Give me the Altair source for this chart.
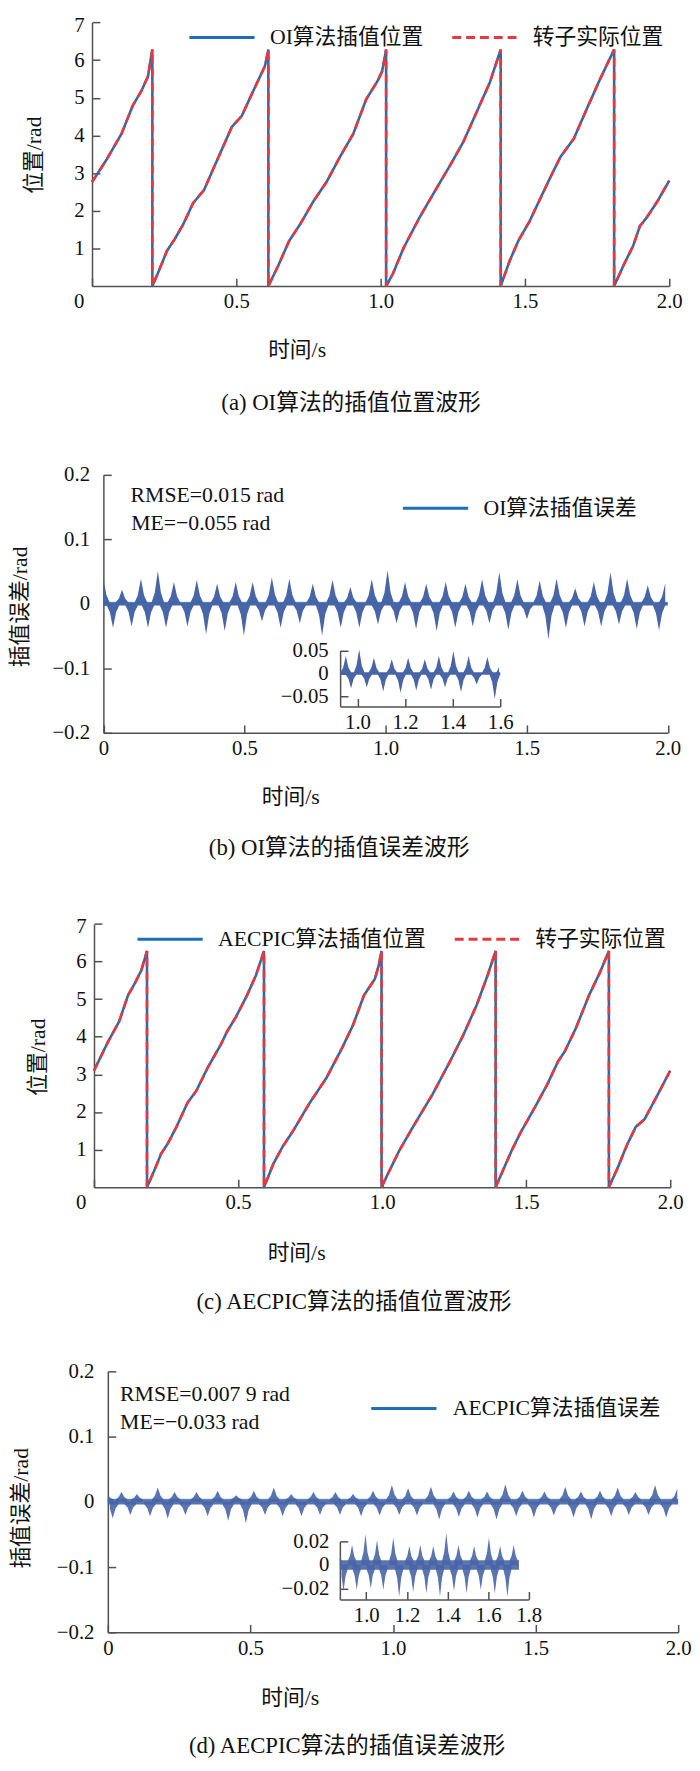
import altair as alt
import pandas as pd

FONT = "Liberation Serif, Noto Sans CJK SC"
INK = "#111111"
AXIS_COLOR = "#505050"
BLUE = "#1f6fb4"
RED = "#e8383e"
ERR_FILL = "#4865a7"

W, H = 692, 1763

# ---------------- data ----------------
# (a) OI: interpolated / actual rotor position (rad) vs time (s)
a_time = [0.0, 0.049, 0.102, 0.141, 0.171, 0.194, 0.209,
          0.209, 0.232, 0.260, 0.286, 0.316, 0.350, 0.388, 0.431, 0.484, 0.519, 0.561, 0.599, 0.611,
          0.611, 0.645, 0.683, 0.721, 0.767, 0.813, 0.859, 0.905, 0.950, 0.989, 1.005, 1.019,
          1.019, 1.042, 1.080, 1.134, 1.187, 1.241, 1.286, 1.332, 1.378, 1.416,
          1.416, 1.447, 1.477, 1.516, 1.554, 1.592, 1.623, 1.669, 1.714, 1.760, 1.809,
          1.809, 1.844, 1.875, 1.898, 1.921, 1.959, 2.0]
a_pos = [2.76, 3.34, 4.04, 4.79, 5.18, 5.57, 6.28,
         0.0, 0.41, 0.94, 1.24, 1.64, 2.20, 2.55, 3.30, 4.22, 4.52, 5.22, 5.84, 6.28,
         0.0, 0.54, 1.20, 1.64, 2.25, 2.77, 3.43, 4.04, 4.96, 5.44, 5.70, 6.28,
         0.0, 0.32, 1.02, 1.81, 2.51, 3.21, 3.82, 4.61, 5.40, 6.28,
         0.0, 0.67, 1.20, 1.72, 2.34, 2.95, 3.43, 3.91, 4.70, 5.49, 6.28,
         0.0, 0.59, 1.07, 1.59, 1.81, 2.25, 2.80]

# (c) AECPIC: interpolated / actual rotor position (rad) vs time (s)
c_time = [0.0, 0.049, 0.087, 0.118, 0.141, 0.164, 0.184,
          0.184, 0.210, 0.233, 0.256, 0.286, 0.325, 0.355, 0.394, 0.440, 0.462, 0.493, 0.531, 0.562, 0.590,
          0.590, 0.623, 0.654, 0.692, 0.746, 0.807, 0.861, 0.899, 0.937, 0.975, 0.988, 0.998,
          0.998, 1.021, 1.060, 1.113, 1.175, 1.236, 1.282, 1.328, 1.366, 1.394,
          1.394, 1.420, 1.450, 1.481, 1.527, 1.573, 1.611, 1.634, 1.672, 1.718, 1.756, 1.787,
          1.787, 1.819, 1.849, 1.880, 1.911, 1.957, 2.0]
c_pos = [3.10, 3.87, 4.40, 5.10, 5.41, 5.76, 6.28,
         0.0, 0.46, 0.89, 1.16, 1.60, 2.25, 2.56, 3.17, 3.79, 4.14, 4.53, 5.10, 5.63, 6.28,
         0.0, 0.63, 1.07, 1.51, 2.21, 2.91, 3.70, 4.31, 5.10, 5.54, 5.89, 6.28,
         0.0, 0.37, 0.98, 1.68, 2.47, 3.35, 4.05, 4.84, 5.63, 6.28,
         0.0, 0.46, 0.98, 1.46, 2.08, 2.73, 3.35, 3.61, 4.22, 5.10, 5.71, 6.28,
         0.0, 0.54, 1.11, 1.60, 1.81, 2.47, 3.10]

# (b) OI interpolation error: envelope spikes (time s, value rad)
b_peak_t = [0.0, 0.066, 0.133, 0.193, 0.250, 0.331, 0.403, 0.469, 0.529, 0.597, 0.659, 0.742, 0.812,
            0.875, 0.951, 1.007, 1.069, 1.144, 1.213, 1.283, 1.342, 1.403, 1.467, 1.546, 1.606,
            1.672, 1.738, 1.797, 1.856, 1.929, 1.991]
b_peak_v = [0.039, 0.022, 0.039, 0.051, 0.034, 0.037, 0.031, 0.034, 0.034, 0.041, 0.039, 0.031, 0.037,
            0.026, 0.038, 0.052, 0.034, 0.031, 0.034, 0.031, 0.038, 0.049, 0.038, 0.036, 0.039,
            0.024, 0.034, 0.049, 0.039, 0.029, 0.032]
b_trough_t = [0.034, 0.100, 0.158, 0.222, 0.298, 0.364, 0.430, 0.498, 0.562, 0.628, 0.696, 0.775,
              0.841, 0.907, 0.973, 1.039, 1.108, 1.181, 1.247, 1.309, 1.368, 1.435, 1.501, 1.577,
              1.639, 1.705, 1.764, 1.827, 1.890, 1.969]
b_trough_v = [-0.037, -0.035, -0.037, -0.037, -0.035, -0.047, -0.042, -0.049, -0.027, -0.037, -0.030,
              -0.049, -0.037, -0.037, -0.032, -0.030, -0.039, -0.042, -0.037, -0.035, -0.030, -0.040,
              -0.024, -0.055, -0.037, -0.035, -0.035, -0.032, -0.039, -0.041]

# (d) AECPIC interpolation error: envelope spikes (time s, value rad)
d_peak_t = [0.0, 0.048, 0.102, 0.175, 0.234, 0.311, 0.385, 0.450, 0.512, 0.582, 0.643, 0.721, 0.798,
            0.860, 0.930, 0.996, 1.053, 1.133, 1.212, 1.266, 1.330, 1.394, 1.454, 1.531, 1.604,
            1.659, 1.726, 1.788, 1.850, 1.919, 1.997]
d_peak_v = [0.010, 0.015, 0.012, 0.022, 0.015, 0.015, 0.017, 0.010, 0.017, 0.022, 0.012, 0.015, 0.015,
            0.012, 0.017, 0.026, 0.021, 0.023, 0.016, 0.017, 0.016, 0.027, 0.017, 0.016, 0.023,
            0.016, 0.017, 0.022, 0.015, 0.026, 0.020]
d_trough_t = [0.017, 0.079, 0.148, 0.210, 0.272, 0.350, 0.422, 0.484, 0.551, 0.613, 0.679, 0.744,
              0.814, 0.888, 0.953, 1.022, 1.084, 1.162, 1.231, 1.296, 1.363, 1.432, 1.494, 1.564,
              1.633, 1.695, 1.765, 1.827, 1.896, 1.958]
d_trough_v = [-0.025, -0.020, -0.022, -0.026, -0.020, -0.022, -0.029, -0.033, -0.020, -0.022, -0.022,
              -0.020, -0.020, -0.022, -0.021, -0.020, -0.021, -0.027, -0.023, -0.024, -0.027, -0.022,
              -0.024, -0.021, -0.024, -0.027, -0.022, -0.020, -0.020, -0.024]

a_series = ["OI算法插值位置", "转子实际位置"]
c_series = ["AECPIC算法插值位置", "转子实际位置"]
b_series = ["OI算法插值误差"]
d_series = ["AECPIC算法插值误差"]

main_x_ticks = [0, 0.5, 1.0, 1.5, 2.0]
pos_ticks = [1, 2, 3, 4, 5, 6, 7]
err_ticks = [-0.2, -0.1, 0, 0.1, 0.2]
b_in_xticks = [1.0, 1.2, 1.4, 1.6]
b_in_yticks = [-0.05, 0, 0.05]
d_in_xticks = [1.0, 1.2, 1.4, 1.6, 1.8]
d_in_yticks = [-0.02, 0, 0.02]

captions = ["(a) OI算法的插值位置波形", "(b) OI算法的插值误差波形",
            "(c) AECPIC算法的插值位置波形", "(d) AECPIC算法的插值误差波形"]
b_notes = ["RMSE=0.015 rad", "ME=\u22120.055 rad"]
d_notes = ["RMSE=0.007 9 rad", "ME=\u22120.033 rad"]

assert len(a_time) == len(a_pos) and len(c_time) == len(c_pos)
assert len(b_peak_t) == len(b_peak_v) and len(b_trough_t) == len(b_trough_v)
assert len(d_peak_t) == len(d_peak_v) and len(d_trough_t) == len(d_trough_v)

# spike glyph profile (fraction of half-width, fraction of height): a sharp, mildly concave spire
SPIRE = [(-1.0, 0.0), (-0.5, 0.3), (0.0, 1.0), (0.5, 0.3), (1.0, 0.0)]


def make_axis(orient, offset, values, pad, label_expr=None, title=None, tx=None, ty=None,
              label_offset=None):
    kw = dict(orient=orient, offset=offset, values=values, domainColor=AXIS_COLOR, domainWidth=1.5,
              tickColor=AXIS_COLOR, tickWidth=1.5, tickSize={"expr": "-8"}, labelPadding=pad,
              labelFont=FONT, labelFontSize=21, labelColor=INK, labelOverlap=False,
              labelFlush=False, grid=False)
    if label_expr:
        kw["labelExpr"] = label_expr
    if label_offset is not None:
        kw["labelOffset"] = label_offset
    if title:
        kw.update(title=title, titleFont=FONT, titleFontSize=22, titleFontWeight="normal",
                  titleColor=INK, titleX=tx, titleY=ty, titleBaseline="middle", titleAlign="center",
                  titleAngle=270 if orient == "left" else 0)
    else:
        kw["title"] = None
    return alt.Axis(**kw)


def make_legend(lx, ly, offset):
    return alt.Legend(orient="none", legendX=lx, legendY=ly, direction="horizontal", title=None,
                      symbolType="stroke", symbolSize=4356, symbolStrokeWidth=3, labelFont=FONT,
                      labelFontSize=22, labelColor=INK, labelOffset=offset, columnPadding=22,
                      padding=0, labelLimit=0)


def position_panel(times, vals, names, xr, yr, xoff, yoff, ypad, ytxy, xtxy, lxy):
    rows = []
    for name in names:
        for i, (t, v) in enumerate(zip(times, vals)):
            rows.append({"t": t, "v": v, "s": name, "i": i})
    df = pd.DataFrame(rows)
    leg = make_legend(lxy[0], lxy[1], 14)
    color = alt.Color("s:N", scale=alt.Scale(domain=names, range=[BLUE, RED]), legend=leg)
    dash = alt.StrokeDash("s:N", scale=alt.Scale(domain=names, range=[[1, 0], [9, 5]]), legend=leg)
    x = alt.X("t:Q", scale=alt.Scale(domain=[0, 2], range=xr, nice=False, zero=False),
              axis=make_axis("bottom", xoff, main_x_ticks, 13,
                             "datum.value == 0 ? '0' : format(datum.value, '.1f')",
                             "时间/s", xtxy[0], xtxy[1],
                             {"condition": {"test": "datum.value == 0", "value": -13.5}, "value": 0}))
    y = alt.Y("v:Q", scale=alt.Scale(domain=[0, 7], range=yr, nice=False, zero=False),
              axis=make_axis("left", yoff, pos_ticks, ypad, None, "位置/rad", ytxy[0], ytxy[1],
                             {"condition": {"test": "datum.value == 7", "value": 3}, "value": 0}))
    base = alt.Chart(df)
    blue = base.transform_filter(alt.datum.s == names[0]).mark_line(strokeWidth=2.6).encode(
        x=x, y=y, color=color, strokeDash=dash, order="i:Q")
    red = base.transform_filter(alt.datum.s == names[1]).mark_line(strokeWidth=2.6).encode(
        x=x, y=y, color=color, strokeDash=dash, order="i:Q")
    return alt.layer(blue, red)


def spike_frame(times, vals, half, base, lo, hi):
    """One small spire per read spike (id k); clipped to [lo, hi]."""
    rows = []
    for k, (t, v) in enumerate(zip(times, vals)):
        for fx, fy in SPIRE:
            tt = t + fx * half
            vv = base + fy * (v - base)
            if lo <= tt <= hi:
                rows.append({"t": tt, "v": vv, "z": 0.0, "k": k})
    return pd.DataFrame(rows)


def band_frame(band, lo, hi):
    return pd.DataFrame({"t": [lo, hi], "v": [band, band], "z": [-band, -band]})


def error_layers(pk_t, pk_v, tr_t, tr_v, half, band, lo, hi, x, y, opacity):
    up = spike_frame(pk_t, pk_v, half, band, lo, hi)
    dn = spike_frame(tr_t, tr_v, half, -band, lo, hi)
    layers = [alt.Chart(band_frame(band, lo, hi)).mark_area(color=ERR_FILL, opacity=opacity).encode(
        x=x, y=y, y2="z:Q")]
    for df in (up, dn):
        layers.append(alt.Chart(df).mark_area(color=ERR_FILL, opacity=opacity).encode(
            x=x, y=y, y2="z:Q", detail="k:N"))
    return layers


def error_panel(pk_t, pk_v, tr_t, tr_v, half, band, names, xr, yr, xoff, yoff, ypad, ytxy, xtxy,
                lxy, loff, opacity):
    x = alt.X("t:Q", scale=alt.Scale(domain=[0, 2], range=xr, nice=False, zero=False),
              axis=make_axis("bottom", xoff, main_x_ticks, 13,
                             "datum.value == 0 ? '0' : format(datum.value, '.1f')",
                             "时间/s", xtxy[0], xtxy[1]))
    y = alt.Y("v:Q", scale=alt.Scale(domain=[-0.2, 0.2], range=yr, nice=False, zero=False),
              axis=make_axis("left", yoff, err_ticks, ypad,
                             "datum.value == 0 ? '0' : format(datum.value, '.1f')",
                             "插值误差/rad", ytxy[0], ytxy[1]))
    layers = error_layers(pk_t, pk_v, tr_t, tr_v, half, band, 0, 2, x, y, opacity)
    # legend carrier: the thin zero band outline, keyed by the series name
    leg = make_legend(lxy[0], lxy[1], loff)
    carrier = band_frame(band, 0, 2).assign(s=names[0])
    layers.append(alt.Chart(carrier).mark_line(strokeWidth=0.5).encode(
        x=x, y=y, stroke=alt.Stroke("s:N", scale=alt.Scale(domain=names, range=[BLUE]),
                                    legend=leg)))
    return alt.layer(*layers)


def inset_panel(pk_t, pk_v, tr_t, tr_v, half, band, xdom, ydom, xr, yr, xoff, yoff, ypad,
                xticks, yticks, yfmt, opacity):
    x = alt.X("t:Q", scale=alt.Scale(domain=[xdom[0], xdom[1]], range=xr, nice=False, zero=False),
              axis=make_axis("bottom", xoff, xticks, 13, "format(datum.value, '.1f')"))
    y = alt.Y("v:Q", scale=alt.Scale(domain=ydom, range=yr, nice=False, zero=False),
              axis=make_axis("left", yoff, yticks, ypad,
                             f"datum.value == 0 ? '0' : format(datum.value, '{yfmt}')"))
    return alt.layer(*error_layers(pk_t, pk_v, tr_t, tr_v, half, band, xdom[0], xdom[2], x, y,
                                   opacity))


def text_mark(txt, x, y, size, align="left"):
    return alt.Chart(pd.DataFrame({"label": [txt]})).mark_text(
        font=FONT, fontSize=size, align=align, baseline="middle", color=INK).encode(
        x=alt.value(x), y=alt.value(y), text="label:N")


# chart coordinates = page coordinates - 8
pa = position_panel(a_time, a_pos, a_series, [85, 669], [271, 4.3], 271 - H, -85, 16,
                    (-59.5, 138), (292, 64), (182, -15.3))
pb = error_panel(b_peak_t, b_peak_v, b_trough_t, b_trough_v, 0.022, 0.0025, b_series,
                 [96.5, 667.5], [723, 462], 723 - H, -96.5, 22, (-85, 595), (285.5, 64),
                 (398, 461.3), 14, 1.0)
pb_in = inset_panel(b_peak_t, b_peak_v, b_trough_t, b_trough_v, 0.022, 0.0025,
                    (0.927, 1.6, 1.6), [-0.0715, 0.05], [336, 498], [696.3, 639.7],
                    696.3 - H, -336, 20, b_in_xticks, b_in_yticks, ".2f", 1.0)
pc = position_panel(c_time, c_pos, c_series, [87, 670], [1182.7, 916.3], 1182.7 - H, -87, 16,
                    (-57, 1050.5), (291.5, 66), (129.5, 897))
pd_ = error_panel(d_peak_t, d_peak_v, d_trough_t, d_trough_v, 0.02, 0.004, d_series,
                  [101, 678], [1633, 1369], 1633 - H, -101, 22, (-88, 1507), (285, 66),
                  (366, 1372), 15, 0.9)
pd_in = inset_panel(d_peak_t, d_peak_v, d_trough_t, d_trough_v, 0.02, 0.004,
                    (0.87, 1.8, 1.752), [-0.0292, 0.02], [335.75, 526.8], [1599.7, 1541],
                    1599.7 - H, -335.75, 19, d_in_xticks, d_in_yticks, ".2f", 0.9)

texts = [
    text_mark(captions[0], 347, 389, 23, "center"),
    text_mark(captions[1], 335, 840, 23, "center"),
    text_mark(captions[2], 350, 1298.7, 23, "center"),
    text_mark(captions[3], 343, 1748, 23, "center"),
    text_mark(b_notes[0], 124, 482.7, 22),
    text_mark(b_notes[1], 124.6, 510.3, 22),
    text_mark(d_notes[0], 113.4, 1392, 22),
    text_mark(d_notes[1], 113.4, 1420.3, 22),
]

chart = alt.layer(pa, pb, pb_in, pc, pd_, pd_in, *texts).resolve_scale(
    x="independent", y="independent", color="independent", strokeDash="independent",
    stroke="independent"
).properties(
    width=W, height=H, padding=0, background="white",
    autosize=alt.AutoSizeParams(type="none")
).configure_view(stroke=None)

chart.save("out.html", embed_options={"renderer": "svg", "actions": False})
